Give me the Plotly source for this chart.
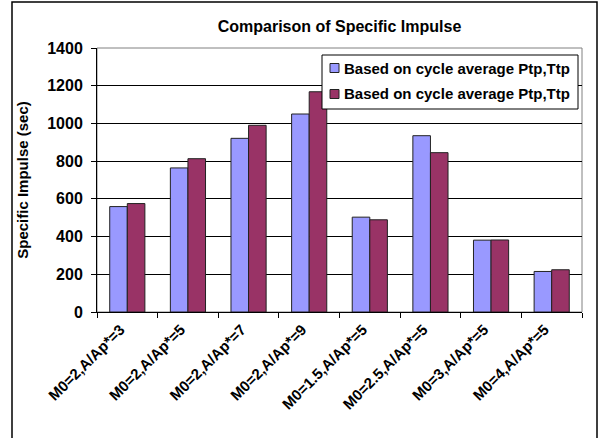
import plotly.graph_objects as go

categories = ["M0=2,A/Ap*=3", "M0=2,A/Ap*=5", "M0=2,A/Ap*=7", "M0=2,A/Ap*=9",
              "M0=1.5,A/Ap*=5", "M0=2.5,A/Ap*=5", "M0=3,A/Ap*=5", "M0=4,A/Ap*=5"]
series_a = [559, 764, 921, 1050, 503, 935, 381, 215]
series_b = [575, 813, 990, 1168, 489, 845, 382, 224]
series_names = ["Based on cycle average Ptp,Ttp", "Based on cycle average Ptp,Ttp"]
y_ticks = [0, 200, 400, 600, 800, 1000, 1200, 1400]
colors = ["#9999FF", "#993366"]

FONT = "Liberation Sans, Arial, sans-serif"
OUTLINE = "#222222"

fig = go.Figure()
for vals, name, col in zip([series_a, series_b], series_names, colors):
    fig.add_trace(go.Bar(x=categories, y=vals, name=name,
                         marker=dict(color=col, line=dict(color=OUTLINE, width=1)),
                         showlegend=False))

L, R, T, B = 97, 28, 48, 126
W, H = 610, 438
pw, ph = W - L - R, H - T - B

def px(x):
    return (x - L) / pw

def py(y):
    return (H - B - y) / ph

# Legend drawn as a box with swatches and real text labels
shapes = [
    dict(type="rect", xref="paper", yref="paper", x0=0, x1=1, y0=0, y1=1,
         line=dict(color="#808080", width=1), layer="below"),
    dict(type="rect", xref="paper", yref="paper", x0=px(12), x1=px(597),
         y0=py(460), y1=py(2), line=dict(color="black", width=1.5),
         fillcolor="rgba(0,0,0,0)", layer="above"),
    dict(type="rect", xref="paper", yref="paper", x0=px(322), x1=px(578),
         y0=py(109), y1=py(55), line=dict(color="black", width=1),
         fillcolor="white", layer="above"),
]
annotations = []
for i, (name, col) in enumerate(zip(series_names, colors)):
    cy = 68 + 26 * i
    shapes.append(dict(type="rect", xref="paper", yref="paper",
                       x0=px(330), x1=px(339), y0=py(cy + 4.5), y1=py(cy - 4.5),
                       line=dict(color=OUTLINE, width=1), fillcolor=col, layer="above"))
    annotations.append(dict(xref="paper", yref="paper", x=px(342), y=py(cy),
                            xanchor="left", yanchor="middle", showarrow=False,
                            text=name, font=dict(family=FONT, size=15, weight="bold")))

fig.update_layout(
    width=W, height=H,
    margin=dict(l=L, r=R, t=T, b=B),
    paper_bgcolor="white", plot_bgcolor="white",
    font=dict(family=FONT, color="black", size=14, weight="bold"),
    barmode="group", bargap=0.42, bargroupgap=0,
    title=dict(text="Comparison of Specific Impulse", x=0.5, xref="paper",
               xanchor="center", y=1 - 26 / H, yanchor="middle",
               font=dict(family=FONT, size=16, weight="bold")),
    showlegend=False,
    xaxis=dict(type="category", showline=True, linecolor="black", linewidth=1,
               ticks="outside", tickson="boundaries", ticklen=5, tickcolor="black",
               tickangle=-45, tickfont=dict(family=FONT, size=15, weight="bold"),
               ticklabelshift=-7, ticklabelstandoff=2,
               showgrid=False),
    yaxis=dict(range=[0, 1400], tickvals=y_ticks, showline=True, linecolor="black",
               linewidth=1, ticks="outside", ticklen=5, tickcolor="black",
               ticklabelstandoff=5,
               showgrid=True, gridcolor="black", gridwidth=1, zeroline=False,
               tickfont=dict(family=FONT, size=16, weight="bold"),
               title=dict(text="Specific Impulse (sec)", standoff=14,
                          font=dict(family=FONT, size=15, weight="bold"))),
    shapes=shapes,
    annotations=annotations,
)

fig.write_html("out.html")
